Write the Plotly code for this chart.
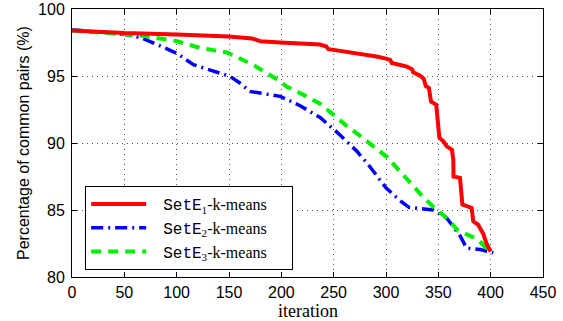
import plotly.graph_objects as go

# Series data (iteration, percentage of common pairs %)
red_x = [0, 25, 50, 100, 150, 172, 180, 199, 237, 243, 245, 250, 269, 291, 300, 304, 305.5, 312, 320, 325, 326,
         333, 336, 338, 341, 343, 348, 351, 355, 358, 363, 364.3, 364.5, 370.7, 373, 381.8, 383.4, 388, 393, 396, 400]
red_y = [98.4, 98.3, 98.2, 98.1, 97.95, 97.8, 97.6, 97.5, 97.35, 97.2, 97.0, 96.95, 96.75, 96.45, 96.3, 96.2, 95.97,
         95.85, 95.7, 95.5, 95.27, 95.0, 94.8, 94.25, 94.1, 93.1, 92.85, 90.4, 90.1, 89.75, 89.5, 88.75, 87.5, 87.4,
         85.4, 85.15, 84.15, 83.9, 83.2, 82.5, 81.9]

blue_x = [0, 50, 68, 100, 116, 135, 151, 160, 170, 199, 218, 237, 254, 272, 283, 300, 315, 322, 330, 345, 358,
          371, 377, 390, 402.5]
blue_y = [98.45, 98.13, 97.8, 96.7, 95.85, 95.4, 94.97, 94.5, 93.85, 93.48, 92.78, 91.9, 90.75, 89.4, 88.4, 86.65,
          85.6, 85.2, 85.15, 85.0, 84.4, 83.05, 82.15, 82.05, 81.8]

green_x = [0, 50, 68, 100, 122, 148, 173, 199, 205, 221, 237, 250, 262, 275, 288, 301, 312, 323, 334, 345, 358,
           369, 387, 398, 401]
green_y = [98.4, 98.15, 98.0, 97.6, 97.1, 96.76, 95.84, 94.6, 94.22, 93.6, 92.93, 92.1, 91.3, 90.55, 89.75, 88.95,
           88.0, 87.0, 86.1, 85.25, 84.4, 83.45, 82.85, 82.0, 81.8]

x_ticks = [0, 50, 100, 150, 200, 250, 300, 350, 400, 450]
y_ticks = [80, 85, 90, 95, 100]

mono = "font-family:'Liberation Mono'"
def lbl(n):
    return f"&nbsp;&nbsp;&nbsp;<span style=\"{mono}\">SetE</span><sub>{n}</sub>-k-means&nbsp;&nbsp;&nbsp;&nbsp;&nbsp;"

fig = go.Figure()
fig.add_trace(go.Scatter(x=blue_x, y=blue_y, mode="lines", name=lbl(2), legendrank=2,
                         line=dict(color="#0000ff", width=3.5, dash="12px,5px,2px,5px")))
fig.add_trace(go.Scatter(x=green_x, y=green_y, mode="lines", name=lbl(3), legendrank=3,
                         line=dict(color="#00ee00", width=4, dash="10px,7px")))
fig.add_trace(go.Scatter(x=red_x, y=red_y, mode="lines", name=lbl(1), legendrank=1,
                         line=dict(color="#ff0000", width=4)))

axis_common = dict(showline=True, linecolor="black", linewidth=1, mirror="ticks",
                   ticks="inside", ticklen=5, tickcolor="black", automargin=False,
                   showgrid=True, gridcolor="#555555", gridwidth=1, griddash="1px,4px",
                   zeroline=False, tickfont=dict(family="Liberation Sans", size=16, color="black"))

fig.update_xaxes(range=[0, 450], tickvals=x_ticks, ticklabelstandoff=1, **axis_common)
fig.update_yaxes(range=[80, 100], tickvals=y_ticks, ticklabelstandoff=3, **axis_common)

fig.add_annotation(text="iteration", xref="paper", yref="paper", x=0.5, y=-0.128,
                   xanchor="center", yanchor="middle", showarrow=False,
                   font=dict(family="Liberation Serif", size=18, color="black"))
fig.add_annotation(text="Percentage of common pairs (%)", xref="paper", yref="paper",
                   x=-0.104, y=0.5, xanchor="center", yanchor="middle", textangle=-90, showarrow=False,
                   font=dict(family="Liberation Sans", size=16, color="black"))

fig.update_layout(
    width=563, height=321,
    margin=dict(l=72, r=20, t=9, b=44),
    plot_bgcolor="white", paper_bgcolor="white",
    legend=dict(x=0.028, y=0.026, xanchor="left", yanchor="bottom",
                bgcolor="white", bordercolor="black", borderwidth=1,
                font=dict(family="Liberation Serif", size=16, color="black"),
                tracegroupgap=0, itemwidth=55),
)

fig.write_html("out.html")
